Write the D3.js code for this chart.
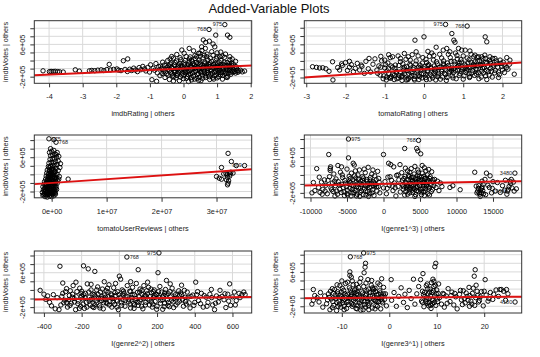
<!DOCTYPE html>
<html><head><meta charset="utf-8">
<script src="https://cdn.jsdelivr.net/npm/d3@7"></script>
<style>html,body{margin:0;padding:0;background:#fff;} svg{display:block;font-family:"Liberation Sans",Arial,Helvetica,sans-serif;}</style>
</head><body><svg id="c" width="540" height="357"></svg>
<script>
const mainTitle = "Added-Variable Plots";
const yLabel = "imdbVotes | others";
const xLabels = ["imdbRating | others","tomatoRating | others","tomatoUserReviews | others","I(genre1^3) | others","I(genre2^2) | others","I(genre3^1) | others"];
// y values in units of 1e5 votes
const yTicks = [-2,0,2,4,6,8,10];
const yTickLabels = {"-2":"-2e+05","6":"6e+05"};
const xTicks1 = [-4,-3,-2,-1,0,1,2];
const xTicks2 = [-3,-2,-1,0,1,2];
const xTicks3 = [0,10,20,30]; // millions of reviews
const xTickLabels3 = ["0e+00","1e+07","2e+07","3e+07"];
const xTicks4 = [-10000,-5000,0,5000,10000,15000];
const xTicks5 = [-400,-200,0,200,400,600];
const xTicks6 = [-10,0,10,20];
// slopes of fitted lines (1e5 votes per x unit)
const slopes = [0.37, 0.65, 0.088, 0.0000326, 0.00047, 0.0087];

const av1 = [[-4.18,-0.55],[-3.99,-0.75],[-3.94,-0.7],[-3.88,-0.72],[-3.82,-0.68],[-3.75,-0.75],[-3.69,-0.78],[-3.58,-0.85],
[-3.22,-0.3],[-3.1,-0.62],[-2.8,-0.55],[-2.73,-0.45],[-2.64,-0.52],[-2.55,-0.38],[-2.45,-0.3],[-2.37,-0.48],[-2.28,-0.22],[-2.21,1.05],[-2.17,-0.32],[-2.08,-0.18],[-1.98,-0.08],[-1.93,-0.38],
[-1.79,1.95],[-1.66,2.4],[-1.86,-0.5],[-1.74,-0.2],[-1.67,-0.72],[-1.6,-0.15],[-1.54,-0.48],[-1.48,0.12],[-1.43,-0.35],[-1.37,-0.75],[-1.32,0.25],[-1.27,-0.28],[-1.21,0.55],[-1.16,-0.05],[-1.12,-0.58],[-1.06,0.3],[-1.01,-0.85],[-0.98,0.95],[-0.94,-2.75],[-0.8,-3.15],[-0.9,0.1],[-0.86,-0.4],[-0.82,1.25],[-0.78,-1.05],[-0.74,0.5],[-0.7,-1.75],[-0.66,0.02],[-0.62,1.6],[-0.59,-0.7],
[-0.55,-2.2],[-0.52,0.8],[-0.5,-1.3],[-0.47,2.0],[-0.45,-0.2],[-0.42,-2.7],[-0.4,1.1],[-0.38,-0.9],[-0.35,0.4],[-0.33,-1.8],[-0.3,2.6],[-0.28,-0.5],[-0.25,1.5],[-0.22,-2.3],[-0.2,0.0],[-0.18,-1.2],[-0.15,0.9],[-0.12,-3.0],[-0.1,-0.6],[-0.08,2.2],[-0.05,-1.6],[-0.03,0.5],[0.0,-2.5],[0.02,1.4],[0.04,-0.3],[0.06,-1.0],[0.08,3.0],[0.1,0.2],[0.12,-2.0],[0.14,1.0],[0.16,-0.8],[0.18,2.4],[0.2,-1.4],[0.22,0.6],[0.24,-2.8],[0.26,1.8],[0.28,-0.1],[0.3,-1.9],[0.32,0.9],[0.34,3.2],[0.36,-0.7],[0.38,1.5],[0.4,-2.4],[0.42,0.3],[0.44,-1.2],[0.46,2.1],[0.48,-0.4],[0.5,1.1],[0.52,-3.0],[0.54,0.0],[0.56,-1.6],[0.58,2.7],[0.6,0.7],[0.62,-0.9],[0.64,1.6],[0.66,-2.2],[0.68,0.3],[0.7,-0.5],[0.72,2.2],[0.74,-1.4],[0.76,1.0],[0.78,-2.7],[0.8,0.5],[0.82,-0.2],[0.84,1.8],[0.86,-1.1],[0.88,3.3],[0.9,0.1],[0.92,-1.8],[0.94,1.3],[0.96,-0.6],[0.98,2.5],[1.0,-2.3],[1.02,0.6],[1.04,-0.9],[1.06,1.6],[1.08,-0.3],[1.1,-1.5],[1.12,2.0],[1.14,0.2],[1.16,-2.6],[1.18,1.0],[1.2,-0.7],[1.22,2.8],[1.24,-1.2],[1.26,0.4],[1.28,-0.1],[1.3,1.5],[1.32,-1.9],[1.34,0.8],[1.36,-0.5],[1.38,2.2],[1.4,-0.9],[1.42,0.3],[1.45,-0.6],[1.48,1.2],[1.5,-0.3],[1.53,-0.7],[1.56,0.5],[1.6,-0.5],[1.65,-0.6],[1.82,-0.6],
[-0.36,0.2],[-0.26,-0.9],[-0.16,0.6],[-0.06,-0.3],[0.03,0.9],[0.11,-0.7],[0.19,0.4],[0.27,-1.1],[0.35,0.1],[0.43,1.3],[0.51,-0.8],[0.59,0.3],[0.67,-1.3],[0.75,0.6],[0.83,-0.6],[0.91,0.9],[0.99,-0.2],[1.07,0.4],[1.15,-1.0],[1.23,0.8],[1.31,-0.3],[1.39,0.6],
[-0.69,0.6],[-0.64,-1.2],[-0.61,-0.3],[-0.57,0.9],[-0.54,-0.8],[-0.49,0.3],[-0.46,-1.6],[-0.43,0.7],[-0.41,-0.4],[-0.37,1.4],[-0.34,-1.3],[-0.31,0.0],[-0.29,-2.0],[-0.27,0.9],[-0.24,-0.7],[-0.21,1.9],[-0.19,-1.7],[-0.17,0.3],[-0.14,-0.9],[-0.11,1.2],[-0.09,-2.1],[-0.07,0.7],[-0.04,-1.1],[-0.02,0.0],[0.01,-1.6],[0.05,2.0],[0.07,-0.6],[0.09,-2.4],[0.13,0.6],[0.15,-1.5],[0.17,1.7],[0.21,-0.3],[0.23,-2.2],[0.25,0.4],[0.29,1.2],[0.31,-0.8],[0.33,-2.6],[0.37,0.6],[0.41,-1.5],[0.45,0.0],[0.47,-2.1],[0.49,1.6],[0.53,-1.0],[0.55,0.9],[0.57,-2.4],[0.61,-0.3],[0.63,1.2],[0.65,-1.8],[0.69,0.9],[0.71,-1.0],[0.73,0.0],[0.77,-2.0],[0.79,1.4],[0.81,-1.4],[0.85,0.2],[0.87,-2.3],[0.89,1.1],[0.93,-0.9],[0.95,0.5],[0.97,-1.6],[1.01,1.2],[1.03,-0.5],[1.05,-2.0],[1.09,0.9],[1.11,-1.0],[1.13,0.6],[1.17,-1.7],[1.19,0.0],[1.21,1.6],[1.25,-0.8],[1.27,-2.1],[1.29,0.7],[1.33,-1.1],[1.35,1.2],[1.37,-0.2],[1.41,-1.4],[1.44,0.8],[1.47,-0.9],[1.51,0.2],[1.55,-1.1],[1.58,0.1],[1.62,-0.9],[1.7,-0.4],[1.75,-0.8],
[-0.1,2.7],[0.2,2.9],[0.5,3.1],[0.8,2.6],[1.0,2.9],[1.15,3.1],[0.62,3.3],[0.35,2.5],[-0.4,2.4],[1.45,2.4],
[0.76,9.7],[1.23,10.9],[0.96,8.3],[1.31,8.3],[1.38,7.75],[0.66,6.5],[0.88,6.1],[0.59,7.1],[0.77,6.8],[0.54,5.4],[0.65,5.0],[0.84,4.2],[0.93,5.4],[1.11,4.1],[1.08,2.95],[1.43,1.3],[1.38,2.95],[0.17,5.0],[0.24,2.1],[0.45,3.8],[0.3,4.4],[0.02,3.8],[-0.2,3.5],[-0.35,3.0],[0.7,3.6],[1.0,3.9],[1.25,3.6],[1.55,1.8],[0.55,4.5],[-0.05,4.6],[0.49,3.8],[0.39,2.95],[0.69,2.95],
[-0.3,-3.1],[0.15,-3.2],[0.45,-2.9],[0.9,-2.6],[1.3,-2.2]];

const av2 = [[-2.84,0.6],[-2.74,0.45],[-2.66,0.3],[-2.58,0.35],[-2.5,0.1],[-2.42,-0.5],[-2.33,1.8],[-2.32,-2.6],
[-2.2,0.4],[-2.15,-0.2],[-2.08,0.9],[-2.0,1.6],[-1.95,-0.3],[-1.9,0.5],[-1.85,1.1],[-1.8,-0.6],[-1.75,0.2],[-1.7,1.4],[-1.64,-0.2],[-1.58,0.7],[-1.52,-1.0],[-1.48,1.9],[-1.42,0.1],[-1.36,-0.7],[-1.3,1.2],[-1.25,2.5],[-1.2,-0.2],[-1.15,0.8],[-1.12,-1.4],[-1.08,2.0],[-1.04,-2.3],[-1.0,0.3],[-0.96,-2.6],[-0.92,1.5],[-0.9,-1.0],[-0.86,2.8],[-0.83,-1.8],[-0.8,0.5],[-0.76,-2.5],[-0.73,1.0],[-0.7,-0.5],[-0.66,3.2],[-0.63,-1.5],[-0.6,1.8],[-0.56,-2.7],[-0.53,0.2],[-0.5,-1.1],[-0.46,2.4],[-0.43,-0.3],[-0.4,-2.2],[-0.36,1.2],[-0.33,-0.8],[-0.3,3.5],[-0.26,0.4],[-0.23,-1.7],[-0.2,2.0],[-0.16,-0.4],[-0.13,-2.5],[-0.1,1.0],[-0.06,-1.2],[-0.03,2.8],[0.0,0.1],[0.04,-2.0],[0.07,1.6],[0.1,-0.7],[0.14,3.1],[0.17,0.5],[0.2,-1.6],[0.24,2.2],[0.27,-0.2],[0.3,-2.6],[0.34,1.3],[0.37,-1.0],[0.4,3.6],[0.44,0.6],[0.47,-1.9],[0.5,2.0],[0.54,0.0],[0.57,-2.7],[0.6,1.5],[0.64,-0.9],[0.67,2.8],[0.7,0.3],[0.74,-2.1],[0.77,1.8],[0.8,-0.4],[0.84,3.3],[0.87,0.8],[0.9,-1.5],[0.94,2.3],[0.97,-0.1],[1.0,-2.4],[1.04,1.2],[1.07,-0.8],[1.1,2.7],[1.14,0.5],[1.17,-1.8],[1.2,1.7],[1.24,-0.3],[1.27,3.0],[1.3,0.9],[1.34,-1.2],[1.37,2.0],[1.4,-2.3],[1.44,1.1],[1.47,-0.5],[1.5,2.5],[1.54,0.4],[1.57,-1.6],[1.6,1.5],[1.64,-0.6],[1.67,2.2],[1.7,0.2],[1.74,-1.9],[1.77,1.0],[1.8,-0.9],[1.84,2.0],[1.88,0.5],[1.92,-1.3],[1.96,1.4],[2.0,-0.2],[2.05,1.0],[2.1,0.4],[2.18,1.2],[2.3,-1.2],
[-0.95,-1.9],[-0.85,-2.2],[-0.75,-1.4],[-0.65,-2.1],[-0.55,-1.6],[-0.45,-2.6],[-0.35,-1.9],[-0.25,-2.3],[-0.15,-1.4],[-0.05,-2.1],[0.05,-1.3],[0.15,-2.4],[0.25,-1.0],[0.35,-1.8],[0.45,-0.5],[0.55,-1.3],[0.65,0.2],[0.75,-0.8],[0.85,0.6],[0.95,-0.5],[1.05,0.3],[1.15,-1.1],[1.25,0.7],[1.35,-0.1],[1.45,0.9],[-0.9,0.1],[-0.7,-0.9],[-0.5,0.5],[-0.3,-0.6],[-0.1,0.3],[0.1,0.9],[0.3,0.2],[0.5,1.0],[0.7,-0.3],[0.9,1.4],[1.1,0.0],[1.3,1.8],[1.5,1.2],[1.7,1.4],
[-1.18,-1.0],[-1.1,0.5],[-1.02,-1.6],[-0.98,1.1],[-0.94,-0.4],[-0.88,-2.0],[-0.84,0.8],[-0.79,-1.2],[-0.74,0.2],[-0.69,-2.3],[-0.64,0.9],[-0.61,-0.7],[-0.58,-1.9],[-0.54,1.3],[-0.51,-0.2],[-0.48,-1.4],[-0.44,0.6],[-0.41,-2.5],[-0.38,-0.4],[-0.34,0.9],[-0.31,-1.5],[-0.28,0.0],[-0.24,-2.6],[-0.21,1.2],[-0.18,-0.9],[-0.14,0.5],[-0.11,-1.8],[-0.08,-0.1],[-0.04,1.5],[-0.01,-1.1],[0.02,0.6],[0.06,-2.5],[0.09,-0.3],[0.12,1.1],[0.16,-1.2],[0.19,0.2],[0.22,-2.1],[0.26,0.8],[0.29,-0.6],[0.32,1.8],[0.36,-1.4],[0.39,0.4],[0.42,-2.4],[0.46,-0.1],[0.49,1.3],[0.52,-1.0],[0.56,0.6],[0.59,-2.0],[0.62,0.9],[0.66,-0.6],[0.69,1.9],[0.72,-1.6],[0.76,0.1],[0.79,1.2],[0.82,-2.3],[0.86,-0.2],[0.89,0.9],[0.92,-1.1],[0.96,1.7],[0.99,0.2],[1.02,-1.6],[1.06,0.8],[1.09,-0.4],[1.12,1.5],[1.16,-2.0],[1.19,0.4],[1.22,-0.9],[1.26,1.2],[1.29,-1.5],[1.32,0.1],[1.36,0.8],[1.39,-0.8],[1.42,2.0],[1.46,-1.9],[1.49,0.3],[1.52,-0.9],[1.56,1.6],[1.59,-0.3],[1.62,0.8],[1.66,-1.4],[1.69,1.8],[1.72,-0.5],[1.76,0.5],[1.82,-0.3],[1.86,1.3],[1.9,-0.7],[1.98,0.7],[2.02,1.7],[2.14,0.0],
[-1.0,2.2],[-0.8,3.0],[-0.6,2.6],[-0.35,2.2],[-0.15,3.2],[0.05,2.4],[0.25,3.3],[0.45,2.7],[0.62,3.6],[0.85,2.5],[1.0,3.2],[1.15,2.3],[1.35,2.9],[1.55,3.4],[1.75,2.6],[-1.4,2.6],[-1.6,1.0],[-1.9,1.9],[-2.1,1.3],
[0.55,10.8],[1.1,10.4],[0.0,7.8],[-0.23,7.0],[0.71,8.6],[0.76,7.0],[0.79,6.5],[1.56,7.8],[1.6,6.6],[0.31,5.3],[0.49,4.6],[0.58,5.0],[0.66,4.2],[0.88,5.0],[0.96,4.6],[1.05,4.6],[1.17,4.4],[1.3,3.4],[1.39,3.0],[1.47,3.0],[1.56,2.6],[1.68,3.0],[1.81,2.6],[1.94,2.2],[2.11,2.8],[2.19,2.2],[-0.5,3.8],[-0.2,4.2],[0.2,3.9],[-0.9,3.5],[-1.1,3.1],[-0.4,3.0],[0.1,4.3],[1.2,3.6],[0.8,3.9],[2.05,-0.8],[1.9,-2.0],[1.6,-2.5]];

// x in millions of reviews
const av3 = [[-1.6,-2.9],[-1.2,-3.2],[-0.8,-3.3],[-0.4,-3.1],[0.0,-3.2],[0.4,-3.0],[-1.7,-2.2],[-1.3,-2.5],[-0.9,-2.7],[-0.5,-2.6],[-0.1,-2.5],[0.3,-2.3],[0.7,-2.6],[-1.5,-1.6],[-1.1,-1.9],[-0.7,-2.0],[-0.3,-1.8],[0.1,-1.9],[0.5,-1.7],[0.9,-1.5],[-1.6,-0.9],[-1.2,-1.1],[-0.8,-1.3],[-0.4,-1.2],[0.0,-1.0],[0.4,-1.1],[0.8,-0.8],[-1.4,-0.3],[-1.0,-0.5],[-0.6,-0.6],[-0.2,-0.4],[0.2,-0.5],[0.6,-0.2],[1.0,-0.1],[-1.3,0.3],[-0.9,0.2],[-0.5,0.1],[-0.1,0.3],[0.3,0.2],[0.7,0.4],[1.1,0.5],[-1.1,0.9],[-0.7,0.8],[-0.3,1.0],[0.1,0.8],[0.5,1.1],[0.9,1.2],[1.3,0.9],[-1.0,1.6],[-0.6,1.5],[-0.2,1.7],[0.2,1.5],[0.6,1.8],[1.0,2.0],[1.4,1.5],[-0.9,2.3],[-0.5,2.2],[-0.1,2.4],[0.3,2.3],[0.7,2.6],[1.2,2.9],[-0.8,3.0],[-0.4,3.1],[0.0,3.2],[0.4,3.0],[0.8,3.4],[1.5,3.6],[-0.6,3.8],[-0.2,3.9],[0.2,4.1],[0.6,4.0],[1.0,4.3],[1.6,4.5],[-0.5,4.6],[-0.1,4.8],[0.3,4.7],[0.7,5.0],[1.2,5.1],[-0.3,5.5],[0.1,5.7],[0.5,5.6],[0.9,6.0],[1.3,6.2],[-0.2,6.4],[0.2,6.5],[0.6,6.8],[1.0,7.1],[-0.4,7.1],[0.0,7.4],[0.4,7.6],[-0.2,8.0],[0.8,6.6],
[-1.45,-2.7],[-1.05,-2.9],[-0.65,-2.8],[-0.25,-2.9],[0.15,-2.7],[0.55,-2.4],[-1.35,-2.0],[-0.95,-2.2],[-0.55,-2.3],[-0.15,-2.2],[0.25,-2.1],[0.65,-2.0],[-1.25,-1.4],[-0.85,-1.6],[-0.45,-1.5],[-0.05,-1.4],[0.35,-1.5],[0.75,-1.2],[-1.15,-0.7],[-0.75,-0.9],[-0.35,-0.8],[0.05,-0.7],[0.45,-0.9],[-0.95,-0.1],[-0.55,-0.3],[-0.15,0.0],[0.25,-0.1],[0.65,0.1],[-0.85,0.5],[-0.45,0.6],[-0.05,0.6],[0.35,0.6],[0.75,0.8],[-0.65,1.2],[-0.25,1.3],[0.15,1.2],[0.55,1.4],[-0.55,1.9],[-0.15,2.0],[0.25,1.9],[0.45,2.6],[-0.35,2.7],[0.05,2.8],[0.15,3.5],[-0.45,3.5],
[-0.5,10.3],[0.4,10.1],[0.8,9.5],[3.0,0.9],
[30.0,1.5],[30.5,1.1],[30.9,0.87],[31.3,2.1],[31.7,2.27],[31.9,1.9],[32.3,2.4],[32.5,2.1],[31.8,0.72],[32.2,0.49],[32.1,-0.05],[32.0,-0.44],[33.0,2.3],[30.9,3.6],[32.1,6.9],[32.7,5.0],[33.6,4.05],[35.1,4.05],[32.6,2.5],[32.0,1.3],[32.4,1.6]];

const av4 = [[-9800,-2.0],[-9400,-1.5],[-9150,3.4],[-8900,-0.8],[-8700,-1.9],[-8500,0.4],[-8300,-1.2],[-8100,0.9],[-7900,-0.3],[-7700,-2.2],[-7500,6.55],[-7400,1.6],[-7300,3.0],[-7300,3.4],[-7250,3.8],[-7200,-0.9],[-7000,0.2],[-6900,-1.7],[-6800,2.2],[-6600,-0.4],[-6500,1.1],[-6300,-2.3],[-6200,0.5],[-6000,-1.2],[-5900,2.6],[-5700,-0.1],[-5600,1.4],[-5400,-1.8],[-5300,0.8],[-5100,-0.6],[-5000,3.3],[-4900,-2.5],[-4800,10.0],[-4800,5.8],[-4700,1.7],[-4600,-1.0],[-4500,0.3],[-4400,2.4],[-4300,-2.0],[-4200,0.9],[-4100,-0.4],[-4000,4.2],[-3900,-1.5],[-3800,1.3],[-3700,-2.7],[-3600,0.0],[-3500,2.0],[-3400,-0.9],[-3300,3.1],[-3200,-1.9],[-3100,0.6],[-3000,-0.2],[-2900,1.6],[-2800,-2.4],[-2700,0.3],[-2600,-1.1],[-2500,2.5],[-2400,-0.5],[-2300,1.0],[-2200,-1.7],[-2100,3.7],[-2000,0.1],[-1900,-2.2],[-1800,1.4],[-1700,-0.7],[-1600,2.2],[-1500,-1.3],[-1400,0.5],[-1300,-2.6],[-1200,1.8],[-1100,-0.2],[-1000,0.9],[-900,-1.6],[-800,2.8],[-700,-0.6],[-600,0.4],[-500,-2.0],
[-5500,-0.8],[-5200,0.2],[-4950,-1.4],[-4650,0.6],[-4350,-0.3],[-4050,-1.9],[-3750,0.5],[-3450,1.0],[-3150,-0.9],[-2850,0.8],[-2550,-0.3],[-2250,0.6],[-1950,-0.8],[-1650,0.2],[-1350,-0.4],[-6100,-0.2],[-6700,0.6],[-7100,-1.3],[-8000,-1.6],[-5800,-1.9],[-5000,-2.2],[-3600,-2.3],[-2400,-2.5],
[-8800,1.5],[-8400,-2.3],[-7600,0.8],[-6400,-1.6],[-5650,2.0],[-5350,-2.6],[-4850,0.1],[-4550,1.2],[-4250,-1.3],[-3950,1.8],[-3650,-0.6],[-3350,0.2],[-3050,-1.5],[-2750,1.3],[-2450,-1.6],[-2150,-0.3],[-1850,0.9],[-1550,-2.0],[-1250,0.2],[-950,-0.6],[-650,1.2],[-4450,-2.7],[-3250,-2.8],[-2050,-2.8],[-6650,-2.7],[-5750,3.8],[-3850,2.9],[-2650,3.3],[-1450,3.1],[-6250,4.1],[-4150,4.6],[-9600,0.3],
[0,6.55],[0,-0.9],[200,0.5],[400,-2.2],[600,1.5],[700,4.6],[800,-0.3],[1000,4.3],[1100,0.8],[1300,-1.5],[1400,3.8],[1500,0.2],[1700,-2.7],[1800,1.9],[2000,-0.6],[2100,0.9],[2260,4.3],[2300,-1.8],[2500,2.5],[2600,-0.2],[2800,1.2],[2900,7.9],[2900,-2.5],[3000,0.4],[3200,-1.1],[3300,2.9],[3400,-0.5],[3500,1.6],[3600,-2.0],[3700,0.1],[3800,3.4],[3900,-1.4],[4000,0.8],[4100,-0.2],[4200,2.2],[4300,-2.8],[4400,1.1],[4500,-0.9],[4550,7.9],[4600,0.4],[4700,7.35],[4700,3.1],[4800,9.7],[4800,-1.7],[4900,1.7],[5000,-0.3],[5100,6.7],[5100,0.8],[5200,-2.4],[5300,2.4],[5400,-1.0],[5500,0.3],[5600,3.6],[5700,-1.6],[5800,1.3],[5900,-0.5],[6000,2.0],[6100,-2.2],[6200,0.6],[6300,-0.9],[6400,1.6],[6500,-0.2],[6600,2.7],[6700,-1.3],[6800,0.4],[7000,1.0],[7200,-0.8],[7400,0.6],[7600,-1.5],[7800,0.2],[8000,-0.6],
[3100,-0.4],[3350,0.9],[3650,-0.8],[3950,0.5],[4250,-1.2],[4450,0.2],[4650,-0.6],[4850,0.7],[5050,-1.2],[5250,0.9],[5450,-0.4],[5650,1.2],[5850,-0.2],[6050,0.9],[4000,-1.9],[5500,-1.8],[4600,1.8],[5200,1.5],[3800,1.4],[2700,-1.2],[1200,-0.5],[500,-1.0],
[2600,0.8],[2750,-0.6],[2950,1.7],[3050,-1.7],[3150,0.2],[3250,-0.7],[3450,1.9],[3550,-1.2],[3750,0.9],[3850,-0.3],[4050,1.5],[4150,-0.9],[4350,0.6],[4550,-1.5],[4750,1.2],[4950,-0.5],[5150,-1.8],[5350,0.3],[5550,1.7],[5750,-1.1],[5950,0.4],[6150,-0.6],[6350,1.2],[6550,-1.7],[6750,0.9],[6900,-0.4],[3300,-2.3],[4400,-2.4],[5600,-2.6],[6300,-2.5],[3600,2.6],[4800,2.6],[5800,2.9],[4300,3.9],[5300,4.1],[3000,3.5],[6200,3.2],[2000,2.0],[1600,-0.9],[900,1.6],
[9100,-0.8],[9500,-0.4],[10500,-1.3],
[12500,2.6],[12700,-0.5],[12900,-1.6],[13000,-1.0],[13100,-2.0],[13200,-2.3],[13300,-1.3],[13400,-2.0],[13500,-0.7],[13600,-1.5],[13700,-2.2],[13500,0.6],[13900,1.0],[14100,2.4],[14300,-0.3],[14600,1.8],[14800,-2.0],[14900,-1.0],[15000,0.5],[15300,-1.6],[16000,-1.9],[16300,-0.4],[16700,0.8],[16900,-2.3],[17100,-1.2],[17200,-0.6],[17400,0.1],[17600,-0.9],[17800,0.4],[18000,2.4],[18200,-1.1],[17000,-1.6],[17500,1.0],
[13050,-0.4],[13250,-2.8],[13450,-1.0],[13650,-0.1],[12800,-2.0],[14500,-0.8],[15600,0.3],[16600,-1.4],[17300,0.6],[17900,-1.6],[14000,-2.4]];

const av5 = [[-420,1.9],[-380,0.6],[-370,-0.9],[-340,-2.4],[-330,0.2],[-315,7.5],[-310,-1.5],[-300,1.2],[-290,-0.4],[-280,2.3],[-275,-2.0],[-265,0.7],[-255,-1.1],[-245,3.0],[-240,0.0],[-232,-2.6],[-225,1.6],[-218,-0.6],[-210,2.4],[-205,-1.8],[-200,0.5],[-195,-0.1],[-190,7.6],[-185,-2.3],[-180,1.2],[-175,-0.9],[-170,3.4],[-165,6.9],[-160,0.3],[-155,-1.5],[-150,2.0],[-145,-0.3],[-140,1.0],[-135,-2.1],[-130,6.3],[-128,0.6],[-120,-1.0],[-115,2.7],[-110,0.1],[-105,-1.7],[-100,1.5],[-95,-0.5],[-90,2.2],[-85,-2.4],[-80,0.8],[-75,-0.2],[-70,1.8],[-65,-1.2],[-60,0.4],[-55,3.2],[-50,-0.7],[-45,1.1],[-40,-2.0],[-35,0.0],[-30,2.5],[-25,-1.4],[-20,0.7],[-15,-0.4],[-10,1.6],[-5,-2.6],[0,5.2],[7,4.5],[5,0.3],[10,-1.0],[15,2.0],[20,-0.3],[25,1.2],[30,-1.8],[35,0.6],[40,9.65],[42,3.0],[48,-0.8],[55,1.7],[60,-2.2],[65,0.2],[70,2.6],[75,-1.1],[80,0.9],[85,-0.5],[90,3.5],[95,1.4],[100,6.7],[100,-1.6],[105,0.4],[110,2.2],[115,-0.2],[120,1.0],[125,-2.4],[130,3.0],[135,0.7],[140,-0.9],[145,1.8],[150,-0.1],[155,2.6],[160,-1.5],[165,0.5],[170,1.3],[175,-2.0],[180,0.2],[185,2.0],[190,-0.7],[195,1.0],[200,-1.8],[205,6.0],[210,10.6],[210,0.3],[215,2.8],[220,-0.4],[225,1.5],[230,-2.5],[235,0.7],[240,-1.1],[245,2.1],[250,4.2],[255,-0.3],[260,1.1],[265,-1.9],[270,0.4],[280,2.4],[285,-0.8],[290,1.3],[300,-1.5],[305,0.2],[315,1.8],[320,-0.6],[330,0.9],[340,-1.8],[350,0.3],[360,1.5],[370,-1.0],[380,0.5],[395,-1.6],[405,3.8],[410,0.9],[420,-0.5],[435,1.2],[445,-2.0],[460,0.3],[470,-0.9],[480,1.0],[488,2.1],[495,-1.5],[505,-2.6],[515,0.6],[525,-0.8],[534,1.9],[545,0.5],[555,-0.3],[565,-2.1],[575,1.0],[585,3.4],[590,-1.6],[600,0.4],[610,1.5],[620,-0.5],[635,1.2],[650,0.9],[667,0.9],
[-280,-0.9],[-250,0.3],[-220,-1.2],[-190,0.9],[-160,-0.6],[-130,-1.5],[-100,0.0],[-70,-0.9],[-40,0.8],[-10,-0.6],[20,0.8],[50,-0.2],[80,-1.5],[110,-0.6],[140,0.6],[170,-0.8],[200,0.9],[230,-0.3],[260,-0.9],[290,0.0],[320,0.7],[350,-0.7],[-260,1.8],[-200,1.7],[-120,2.0],[-60,1.5],[60,1.6],[120,1.9],[180,1.6],[240,1.3],
[-360,-1.7],[-350,0.9],[-320,-2.6],[-305,0.5],[-295,-1.0],[-285,1.6],[-270,-0.3],[-262,-1.6],[-248,1.0],[-238,-0.8],[-228,0.4],[-212,-2.3],[-203,1.2],[-192,-1.3],[-182,0.2],[-172,-2.0],[-162,1.5],[-152,-0.2],[-142,-1.9],[-133,0.9],[-123,-0.5],[-113,1.0],[-103,-2.2],[-93,0.5],[-83,-1.0],[-73,0.3],[-63,2.4],[-53,-1.5],[-43,0.1],[-33,-0.8],[-23,1.4],[-13,-2.0],[-3,0.9],[12,-1.6],[22,1.7],[32,-0.5],[45,0.4],[58,-1.3],[68,0.9],[78,-2.3],[88,0.0],[98,-0.9],[108,1.5],[118,-1.8],[128,0.1],[138,-1.5],[148,1.1],[158,-0.4],[168,2.2],[178,-1.3],[188,0.6],[198,-2.5],[208,1.6],[218,-1.1],[228,0.3],[238,-1.9],[248,0.8],[258,-1.6],[268,1.6],[278,-0.4],[288,-2.1],[298,0.9],[310,-1.0],[325,1.3],[335,-0.3],[345,1.9],[355,-1.3],[365,0.3],[375,-2.2],[390,0.8],[400,-0.9],[415,1.6],[430,-1.2],[450,0.7],[465,-1.8],[490,0.2],[510,-1.1],[530,0.2],[560,1.1],[580,-0.6],[615,-1.5],[640,0.2],[660,1.5],[-390,-0.2],[-400,1.0],[-300,3.6],[-230,3.8],[-150,3.3],[-80,3.9],[-20,3.5],[60,3.9],[150,3.8],[270,3.4],[330,3.1]];

const av6 = [[-16.0,1.9],[-15.7,0.5],[-16.0,-0.6],[-16.3,-1.5],[-15.2,0.0],[-14.8,-1.0],[-14.5,1.2],[-14.0,-2.2],[-13.6,0.4],[-13.2,-1.4],[-12.8,0.9],[-12.5,-2.8],[-12.2,-0.3],[-12.0,2.1],[-11.7,-1.8],[-11.4,0.6],[-11.1,-3.0],[-10.9,1.4],[-10.6,-0.8],[-10.4,2.8],[-10.2,-2.2],[-10.0,0.2],[-9.8,-1.2],[-9.6,1.7],[-9.4,-0.4],[-9.2,3.3],[-9.0,-2.5],[-8.8,0.8],[-8.6,-1.6],[-8.4,2.3],[-8.3,6.0],[-8.3,5.2],[-8.2,9.5],[-8.2,-0.2],[-8.0,1.2],[-7.8,-2.0],[-7.6,3.0],[-7.4,0.3],[-7.2,-1.0],[-7.0,2.0],[-6.8,-2.6],[-6.6,0.7],[-6.4,-0.5],[-6.2,3.6],[-6.0,-1.7],[-5.8,1.5],[-5.6,-0.1],[-5.4,10.4],[-5.4,2.6],[-5.3,5.8],[-5.1,7.1],[-5.0,8.0],[-5.0,-2.2],[-4.8,0.9],[-4.6,-0.8],[-4.5,4.2],[-4.4,2.0],[-4.2,-1.4],[-4.0,0.4],[-3.8,2.9],[-3.6,-2.4],[-3.4,1.3],[-3.2,-0.5],[-3.0,2.2],[-2.8,-1.8],[-2.6,0.6],[-2.4,3.4],[-2.2,-0.9],[-2.0,1.6],[-1.8,-2.6],[-1.6,4.4],[-1.6,0.2],[-1.4,-1.2],[-1.2,2.4],[-1.0,-0.4],[-0.8,0.9],[-0.6,-1.9],
[-12.6,0.1],[-11.8,1.0],[-11.0,-1.1],[-10.3,0.6],[-9.7,-0.7],[-9.1,0.5],[-8.7,-0.8],[-8.1,0.4],[-7.5,-0.6],[-6.9,0.9],[-6.3,-1.2],[-5.7,0.2],[-5.2,-0.9],[-4.7,1.6],[-4.1,-0.3],[-3.5,0.5],[-2.9,-0.7],[-2.3,0.8],[-1.7,-0.4],[-1.1,0.4],[-7.3,1.8],[-6.5,2.4],[-9.9,2.2],[-3.3,1.9],[-2.5,-2.0],[-7.9,-1.4],[-10.8,-2.0],[-6.0,-2.9],[-4.3,-2.8],
[-13.0,-0.5],[-12.4,1.5],[-11.9,-0.9],[-11.5,1.9],[-11.2,-0.1],[-10.8,0.9],[-10.5,-1.5],[-10.1,1.3],[-9.9,-0.2],[-9.5,-2.0],[-9.3,0.9],[-8.9,-1.1],[-8.5,0.0],[-8.2,1.8],[-7.9,0.7],[-7.6,-1.6],[-7.4,1.1],[-7.1,-0.2],[-6.8,1.4],[-6.6,-1.9],[-6.2,0.2],[-5.9,-0.6],[-5.6,1.1],[-5.3,-1.6],[-5.0,0.5],[-4.7,-0.2],[-4.4,-1.9],[-4.1,1.2],[-3.8,-1.0],[-3.5,2.3],[-3.2,0.1],[-2.9,1.4],[-2.6,-0.9],[-2.2,0.0],[-1.9,1.1],[-1.5,-0.8],[-1.2,0.9],[-12.0,-2.3],[-9.5,-2.8],[-7.0,-2.5],[-5.5,-2.8],[-3.0,-2.6],[-11.0,3.0],[-8.8,3.6],[-7.8,3.9],[-6.9,3.1],[-4.9,3.4],[-3.7,4.0],[-2.0,3.0],[-6.0,4.5],[-8.0,4.8],[-10.0,3.9],
[0.4,4.2],[0.5,-0.6],[1.0,1.2],[1.5,-2.0],[2.0,0.3],[2.5,2.3],[3.0,-1.1],[3.3,0.8],[3.8,-2.3],[4.2,1.7],[4.6,-0.2],[5.1,4.3],[5.4,-1.5],[5.8,0.9],[6.2,2.6],
[6.6,4.2],[7.1,5.6],[6.8,-0.8],[7.0,1.5],[7.3,-2.1],[7.5,0.3],[7.8,2.8],[8.0,-1.3],[8.2,0.9],[8.4,-0.2],[8.6,2.0],[8.8,-2.5],[9.0,1.2],[9.2,4.3],[9.2,-0.6],[9.4,2.6],[9.6,7.2],[9.8,8.0],[9.6,0.4],[9.8,-1.8],[10.0,1.8],[10.2,-0.9],[10.4,3.2],[10.6,0.0],[7.7,-0.9],[8.5,1.3],[9.1,-1.4],[9.9,0.9],[8.9,3.5],[8.3,-1.9],[7.2,0.7],
[7.0,-1.1],[7.4,1.2],[7.8,-0.3],[8.1,2.1],[8.4,-1.2],[8.7,0.5],[9.0,-0.4],[9.3,1.6],[9.5,-1.1],[9.7,2.9],[10.1,-0.3],[10.3,1.0],[8.0,3.2],[9.4,3.8],[8.7,-1.8],
[11.0,-1.5],[11.3,1.0],[11.6,-2.2],[12.0,0.4],[12.4,2.1],[12.8,-0.9],[13.2,1.3],[13.6,-1.7],[14.0,0.2],[14.3,-2.6],[11.5,0.8],[12.2,-1.3],[13.0,0.5],[13.8,1.0],
[14.8,0.8],[15.2,-0.5],[15.6,1.6],[16.0,-1.2],[16.4,0.3],[16.8,2.4],[17.2,-0.8],[17.5,1.0],[17.9,5.0],[18.1,6.5],[18.0,-1.8],[18.3,2.9],[18.6,0.5],[19.0,-0.7],[19.4,1.4],[19.8,-1.9],[20.2,4.2],[20.4,0.6],[20.8,-0.8],
[15.0,1.7],[15.8,-0.2],[16.2,1.1],[16.6,-0.6],[17.0,0.5],[17.4,-1.5],[17.7,2.2],[18.2,0.0],[18.5,1.5],[18.8,-1.0],[19.2,0.2],[16.9,-2.0],[15.4,-1.6],
[21.3,1.2],[21.8,-0.4],[22.5,1.8],[23.0,0.3],[23.6,1.9],[24.1,1.5],[24.5,-0.6],[25.0,0.9],[26.5,-1.0],[22.0,0.8],[23.3,1.9],[24.7,1.9],[20.0,1.5],[21.0,-0.2]];

// identified points: [x, y, label, side]
const ids1 = [[0.76,9.7,"768","l"],[1.23,10.9,"975","l"]];
const ids2 = [[0.55,10.8,"975","l"],[1.1,10.4,"768","l"]];
const ids3 = [[-0.5,10.3,"975","r"],[0.8,9.5,"768","r"],[35.1,4.05,"869","l"]];
const ids4 = [[-4800,10.0,"975","r"],[4800,9.7,"768","l"],[18000,2.4,"3480","l"],[17000,-1.6,"1998","l"]];
const ids5 = [[40,9.65,"768","r"],[210,10.6,"975","l"]];
const ids6 = [[-8.2,9.5,"768","r"],[-5.4,10.4,"975","r"],[26.5,-1.0,"4180","l"]];

const panels = [
 {pts:av1, ids:ids1, xt:xTicks1, xtl:null, xd:[-4.44,2.03], yd:[-3.64,11.87], box:[34.3,20.7,251.7,83.3]},
 {pts:av2, ids:ids2, xt:xTicks2, xtl:null, xd:[-3.05,2.49], yd:[-3.4,11.7], box:[304.3,20.7,521.7,83.3]},
 {pts:av3, ids:ids3, xt:xTicks3, xtl:xTickLabels3, xd:[-3.16,36.4], yd:[-3.47,11.19], box:[34.3,135,251.7,197.8]},
 {pts:av4, ids:ids4, xt:xTicks4, xtl:null, xd:[-10849,18932], yd:[-3.1,10.9], box:[304.3,135,521.7,197.8]},
 {pts:av5, ids:ids5, xt:xTicks5, xtl:null, xd:[-451,702], yd:[-3.37,11.05], box:[34.3,251,251.7,313]},
 {pts:av6, ids:ids6, xt:xTicks6, xtl:null, xd:[-17.9,27.9], yd:[-3.56,10.86], box:[304.3,251,521.7,313]}
];

const svg = d3.select("#c");
svg.append("rect").attr("width",540).attr("height",357).attr("fill","#fff");
svg.append("text").attr("x",269).attr("y",12.5).attr("text-anchor","middle").attr("font-size",13).attr("fill","#111").text(mainTitle);

const FS = 7.3;
panels.forEach((p,i) => {
  const [x0,y0,x1,y1] = p.box;
  const x = d3.scaleLinear().domain(p.xd).range([x0,x1]);
  const y = d3.scaleLinear().domain(p.yd).range([y1,y0]);
  const g = svg.append("g");
  g.selectAll("line.gx").data(p.xt).join("line").attr("class","gx")
    .attr("x1",d=>x(d)).attr("x2",d=>x(d)).attr("y1",y0).attr("y2",y1)
    .attr("stroke","#d9d9d9").attr("stroke-width",1);
  g.selectAll("line.gy").data(yTicks).join("line").attr("class","gy")
    .attr("x1",x0).attr("x2",x1).attr("y1",d=>y(d)).attr("y2",d=>y(d))
    .attr("stroke","#d9d9d9").attr("stroke-width",1);
  g.selectAll("circle").data(p.pts).join("circle")
    .attr("cx",d=>x(d[0])).attr("cy",d=>y(d[1])).attr("r",2.2)
    .attr("fill","none").attr("stroke","#000").attr("stroke-width",0.95);
  g.append("line").attr("x1",x(p.xd[0])).attr("y1",y(slopes[i]*p.xd[0]))
    .attr("x2",x(p.xd[1])).attr("y2",y(slopes[i]*p.xd[1]))
    .attr("stroke","#dd1111").attr("stroke-width",2);
  g.selectAll("text.id").data(p.ids).join("text").attr("class","id")
    .attr("x",d=>x(d[0]) + (d[3]==="l" ? -2.8 : 2.8)).attr("y",d=>y(d[1])+1.8)
    .attr("text-anchor",d=>d[3]==="l"?"end":"start").attr("font-size",5.5).attr("fill","#222").text(d=>d[2]);
  g.append("rect").attr("x",x0).attr("y",y0).attr("width",x1-x0).attr("height",y1-y0)
    .attr("fill","none").attr("stroke","#333").attr("stroke-width",1);
  const ax = d3.axisBottom(x).tickValues(p.xt).tickSize(4).tickSizeOuter(0)
    .tickFormat((d,k)=> p.xtl ? p.xtl[k] : (d<0?"-":"")+Math.abs(d));
  const gx = g.append("g").attr("transform",`translate(0,${y1})`).call(ax);
  gx.select(".domain").remove();
  gx.selectAll("line").attr("stroke","#333");
  gx.selectAll("text").attr("font-size",FS).attr("font-family",null).attr("fill","#222").attr("y",16).attr("dy",null);
  const ay = d3.axisLeft(y).tickValues(yTicks).tickSize(4).tickSizeOuter(0)
    .tickFormat(d => yTickLabels[String(d)] || "");
  const gy = g.append("g").attr("transform",`translate(${x0},0)`).call(ay);
  gy.select(".domain").remove();
  gy.selectAll("line").attr("stroke","#333");
  gy.selectAll("text").attr("font-size",FS).attr("font-family",null).attr("fill","#222")
    .attr("x",0).attr("y",0).attr("dy",null).attr("text-anchor","middle")
    .attr("transform","translate(-9.5,0) rotate(-90)");
  g.append("text").attr("x",(x0+x1)/2).attr("y",y1+33).attr("text-anchor","middle")
    .attr("font-size",FS).attr("fill","#222").text(xLabels[i]);
  g.append("text").attr("transform",`translate(${x0-26},${(y0+y1)/2}) rotate(-90)`)
    .attr("text-anchor","middle").attr("font-size",FS).attr("fill","#222").text(yLabel);
});
</script></body></html>
